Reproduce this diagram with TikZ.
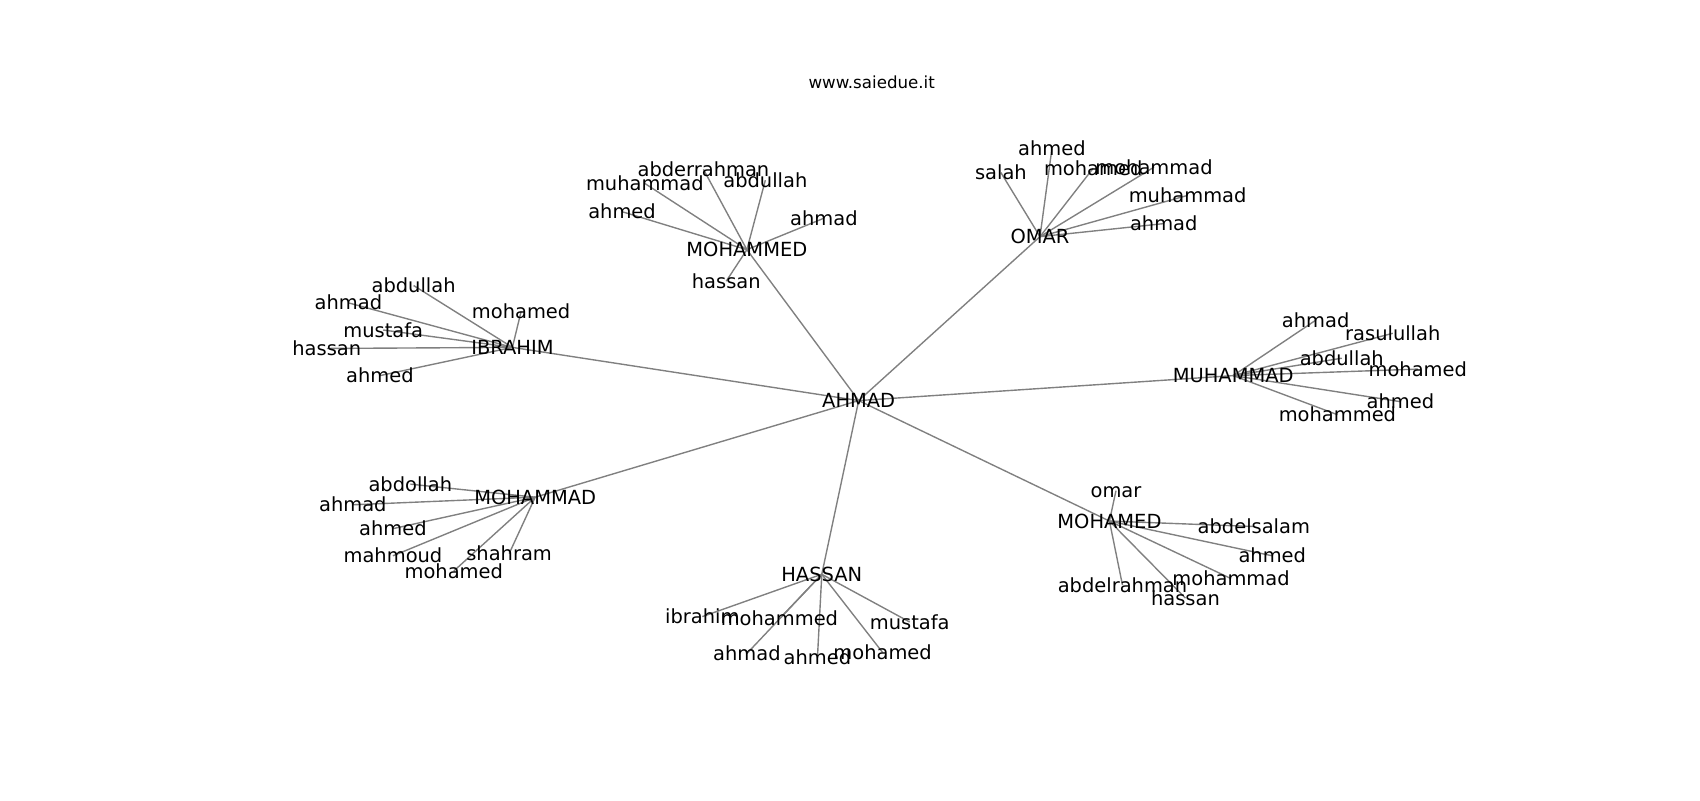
\documentclass[tikz,border=0pt]{standalone}
\usepackage{fontspec}
\setmainfont{DejaVu Sans}
\begin{document}
\begin{tikzpicture}[x=0.7815pt,y=-0.7815pt,
  lbl/.style={inner sep=0pt,font=\fontsize{14pt}{16pt}\selectfont,text height=0.76em,text depth=0.23em,yshift=-2.4pt},
  edge/.style={draw=black!50,line width=1pt}]
\useasboundingbox (0,0) rectangle (1566,737.3);
\node[inner sep=0pt,font=\fontsize{12pt}{14pt}\selectfont] (title) at (803,76) {www.saiedue.it};
% hubs
\coordinate (cA) at (791,369);
\coordinate (cMD) at (688,230);
\coordinate (cOM) at (958,218);
\coordinate (cIB) at (472,320);
\coordinate (cMU) at (1136,346);
\coordinate (cMA) at (493,458);
\coordinate (cHA) at (757,529);
\coordinate (cME) at (1022,480);
% leaves of MOHAMMED
\coordinate (md1) at (648,156);
\coordinate (md2) at (594,169);
\coordinate (md3) at (705,166);
\coordinate (md4) at (573,195);
\coordinate (md5) at (759,201);
\coordinate (md6) at (669,259);
% leaves of OMAR
\coordinate (om1) at (969,137);
\coordinate (om2) at (922,159);
\coordinate (om3) at (1007,155);
\coordinate (om4) at (1063,154);
\coordinate (om5) at (1094,180);
\coordinate (om6) at (1072,206);
% leaves of IBRAHIM
\coordinate (ib1) at (381,263);
\coordinate (ib2) at (321,279);
\coordinate (ib3) at (480,287);
\coordinate (ib4) at (353,304);
\coordinate (ib5) at (301,321);
\coordinate (ib6) at (350,346);
% leaves of MUHAMMAD
\coordinate (mu1) at (1212,295);
\coordinate (mu2) at (1283,307);
\coordinate (mu3) at (1236,330);
\coordinate (mu4) at (1306,340);
\coordinate (mu5) at (1290,370);
\coordinate (mu6) at (1232,382);
% leaves of MOHAMMAD
\coordinate (ma1) at (378,446);
\coordinate (ma2) at (325,465);
\coordinate (ma3) at (362,487);
\coordinate (ma4) at (362,512);
\coordinate (ma5) at (469,510);
\coordinate (ma6) at (418,526);
% leaves of HASSAN
\coordinate (ha1) at (647,568);
\coordinate (ha2) at (718,570);
\coordinate (ha3) at (838,573);
\coordinate (ha4) at (688,602);
\coordinate (ha5) at (753,606);
\coordinate (ha6) at (813,601);
% leaves of MOHAMED
\coordinate (me1) at (1028,452);
\coordinate (me2) at (1155,485);
\coordinate (me3) at (1172,512);
\coordinate (me4) at (1134,533);
\coordinate (me5) at (1034,539);
\coordinate (me6) at (1092,551);
% edges
\foreach \h in {cMD,cOM,cIB,cMU,cMA,cHA,cME} \draw[edge] (cA) -- (\h);
\foreach \i in {1,...,6} {
  \draw[edge] (cMD) -- (md\i);
  \draw[edge] (cOM) -- (om\i);
  \draw[edge] (cIB) -- (ib\i);
  \draw[edge] (cMU) -- (mu\i);
  \draw[edge] (cMA) -- (ma\i);
  \draw[edge] (cHA) -- (ha\i);
  \draw[edge] (cME) -- (me\i);
}
% labels
\node[lbl] (A) at (cA) {AHMAD};
\node[lbl] (MD) at (cMD) {MOHAMMED};
\node[lbl] (OM) at (cOM) {OMAR};
\node[lbl] (IB) at (cIB) {IBRAHIM};
\node[lbl] (MU) at (cMU) {MUHAMMAD};
\node[lbl] (MA) at (cMA) {MOHAMMAD};
\node[lbl] (HA) at (cHA) {HASSAN};
\node[lbl] (ME) at (cME) {MOHAMED};
\node[lbl] at (md1) {abderrahman};
\node[lbl] at (md2) {muhammad};
\node[lbl] at (md3) {abdullah};
\node[lbl] at (md4) {ahmed};
\node[lbl] at (md5) {ahmad};
\node[lbl] at (md6) {hassan};
\node[lbl] at (om1) {ahmed};
\node[lbl] at (om2) {salah};
\node[lbl] at (om3) {mohamed};
\node[lbl] at (om4) {mohammad};
\node[lbl] at (om5) {muhammad};
\node[lbl] at (om6) {ahmad};
\node[lbl] at (ib1) {abdullah};
\node[lbl] at (ib2) {ahmad};
\node[lbl] at (ib3) {mohamed};
\node[lbl] at (ib4) {mustafa};
\node[lbl] at (ib5) {hassan};
\node[lbl] at (ib6) {ahmed};
\node[lbl] at (mu1) {ahmad};
\node[lbl] at (mu2) {rasulullah};
\node[lbl] at (mu3) {abdullah};
\node[lbl] at (mu4) {mohamed};
\node[lbl] at (mu5) {ahmed};
\node[lbl] at (mu6) {mohammed};
\node[lbl] at (ma1) {abdollah};
\node[lbl] at (ma2) {ahmad};
\node[lbl] at (ma3) {ahmed};
\node[lbl] at (ma4) {mahmoud};
\node[lbl] at (ma5) {shahram};
\node[lbl] at (ma6) {mohamed};
\node[lbl] at (ha1) {ibrahim};
\node[lbl] at (ha2) {mohammed};
\node[lbl] at (ha3) {mustafa};
\node[lbl] at (ha4) {ahmad};
\node[lbl] at (ha5) {ahmed};
\node[lbl] at (ha6) {mohamed};
\node[lbl] at (me1) {omar};
\node[lbl] at (me2) {abdelsalam};
\node[lbl] at (me3) {ahmed};
\node[lbl] at (me4) {mohammad};
\node[lbl] at (me5) {abdelrahman};
\node[lbl] at (me6) {hassan};
\end{tikzpicture}
\end{document}
